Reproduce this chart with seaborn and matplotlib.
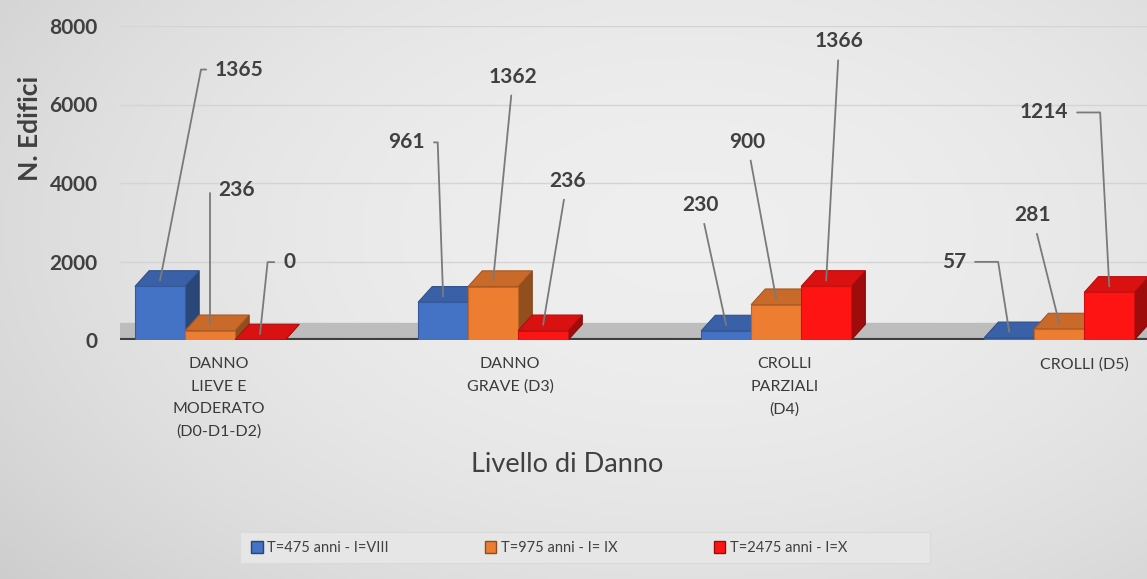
import numpy as np
import pandas as pd
import seaborn as sns
import matplotlib.pyplot as plt
import matplotlib.transforms as mtransforms
from matplotlib.patches import Polygon, Patch, Rectangle
from matplotlib.colors import to_rgb

# ---- data ----
categories = ["DANNO\nLIEVE E\nMODERATO\n(D0-D1-D2)", "DANNO\nGRAVE (D3)",
              "CROLLI\nPARZIALI\n(D4)", "CROLLI (D5)"]
series = ["T=475 anni - I=VIII", "T=975 anni - I= IX", "T=2475 anni - I=X"]
t475 = [1365, 961, 230, 57]
t975 = [236, 1362, 900, 281]
t2475 = [0, 236, 1366, 1214]
y_ticks = [0, 2000, 4000, 6000, 8000]

colors = ["#4472C4", "#ED7D31", "#FF1414"]

df = pd.DataFrame({
    "cat": categories * 3,
    "serie": [s for s in series for _ in categories],
    "val": t475 + t975 + t2475,
})

# label placement (offset pixels from bar top, alignment, hook angle or None)
label_style = {
    (0, 0): ((55, 211), "left", 79), (1, 0): ((8, 135), "left", 90),
    (2, 0): ((23, 72), "left", 84),
    (0, 1): ((-18, 154), "right", 92), (1, 1): ((20, 204), "center", None),
    (2, 1): ((24, 144), "center", None),
    (0, 2): ((-26, 120), "center", None), (1, 2): ((-29, 157), "center", None),
    (2, 2): ((13, 239), "center", None),
    (0, 3): ((-43, 70), "right", 99), (1, 3): ((-27, 108), "center", None),
    (2, 3): ((-41, 174), "right", 93),
}
# horizontal nudge of the category captions (data units)
cat_shift = [0.03, 0.06, 0.03, 0.09]

sns.set_theme(style="white")
plt.rcParams["font.family"] = ["Lato", "DejaVu Sans"]
txt = "#404040"

W, H = 1147, 579
fig = plt.figure(figsize=(W / 100, H / 100), dpi=100)
# soft radial grey backdrop
bg = fig.add_axes([0, 0, 1, 1], zorder=-10)
yy, xx = np.mgrid[0:1:200j, 0:1:300j]
r2 = ((xx - 0.6) / 0.75) ** 2 + ((yy - 0.4) / 0.9) ** 2
img = np.clip(0.935 - 0.12 * r2, 0, 1)
bg.imshow(np.dstack([img] * 3), aspect="auto", extent=[0, 1, 0, 1], origin="upper",
          interpolation="bilinear")
bg.set_xlim(0, 1)
bg.set_ylim(0, 1)
bg.axis("off")
# legend panel
bg.add_patch(Rectangle((240 / W, 1 - 563 / H), 690 / W, 31 / H, fc="#e6e6e6",
                       ec="#dadada", lw=0.8))

ax = fig.add_axes([120 / W, 239 / H, 1 - 120 / W, 314 / H])
ax.set_facecolor("none")

sns.barplot(data=df, x="cat", y="val", hue="serie", palette=colors,
            width=0.53, ax=ax, legend=False, saturation=1,
            edgecolor="none", linewidth=0)

ax.set_xlim(-0.318, 3.31)
ax.set_ylim(0, 8000)
ax.set_yticks(y_ticks)
ax.set_yticklabels([str(v) for v in y_ticks], fontsize=15, fontweight="bold", color=txt)
ax.tick_params(axis="y", length=0, pad=16)
ax.set_xticks([])
ax.set_xlabel("")
ax.set_ylabel("")
for s in ax.spines.values():
    s.set_visible(False)
ax.yaxis.grid(True, color="#d4d4d4", lw=1)
ax.set_axisbelow(True)

# category captions below the base line
trans = mtransforms.blended_transform_factory(ax.transData, ax.transAxes)
for i, (lab, sh) in enumerate(zip(categories, cat_shift)):
    ax.text(i + sh, -0.055, lab, transform=trans, ha="center", va="top",
            fontsize=11.5, color="#3a3a3a", linespacing=1.75)

# floor and base line
ax.axhspan(0, 440, color="#bdbdbd", zorder=1)
ax.axhline(0, color="#3f3f3f", lw=3, zorder=2)

# extrude each bar for a 3D look
dx, dy = 0.05, 400
for hi, cont in enumerate(ax.containers):
    base = np.array(to_rgb(colors[hi]))
    for bar in cont:
        x0 = bar.get_x()
        x1 = x0 + bar.get_width()
        h = bar.get_height()
        z = 3 + hi * 2
        bar.set_zorder(z + 1)
        bar.set_edgecolor(base * 0.8)
        bar.set_linewidth(0.8)
        top = Polygon([(x0, h), (x1, h), (x1 + dx, h + dy), (x0 + dx, h + dy)],
                      closed=True, fc=base * 0.85, ec=base * 0.7, lw=0.8, zorder=z)
        side = Polygon([(x1, 0), (x1, h), (x1 + dx, h + dy), (x1 + dx, dy)],
                       closed=True, fc=base * 0.62, ec=base * 0.55, lw=0.8, zorder=z)
        ax.add_patch(side)
        ax.add_patch(top)

# value labels with leader lines
for hi, cont in enumerate(ax.containers):
    for ci, bar in enumerate(cont):
        val = [t475, t975, t2475][hi][ci]
        (ox, oy), ha, ang = label_style[(hi, ci)]
        xc = bar.get_x() + bar.get_width() / 2
        if ang is None:
            cs = "arc3"
        else:
            cs = f"angle,angleA=0,angleB={ang},rad=0"
        ax.annotate(str(val), xy=(xc, val + 150), xytext=(ox, oy),
                    textcoords="offset pixels", ha=ha, va="center",
                    fontsize=15, fontweight="bold", color=txt, zorder=20,
                    annotation_clip=False,
                    arrowprops=dict(arrowstyle="-", color="#7a7a7a", lw=1.3,
                                    shrinkA=4, shrinkB=0, connectionstyle=cs))

fig.text(30 / W, 1 - 128 / H, "N. Edifici", rotation=90, ha="center", va="center",
         fontsize=19, fontweight="bold", color=txt)
fig.text(567 / W, 1 - 465 / H, "Livello di Danno", ha="center", va="center",
         fontsize=19.5, color=txt)

handles = [Patch(facecolor=c, edgecolor=np.array(to_rgb(c)) * 0.6, lw=1) for c in colors]
leg = fig.legend(handles, series, loc="center", bbox_to_anchor=(549 / W, 1 - 548 / H),
                 ncol=3, frameon=False, fontsize=10.5, handlelength=0.8, handleheight=0.8,
                 handletextpad=0.3, columnspacing=6.6, borderpad=0, borderaxespad=0)
for t in leg.get_texts():
    t.set_color(txt)

fig.savefig("out.png", dpi=100)
